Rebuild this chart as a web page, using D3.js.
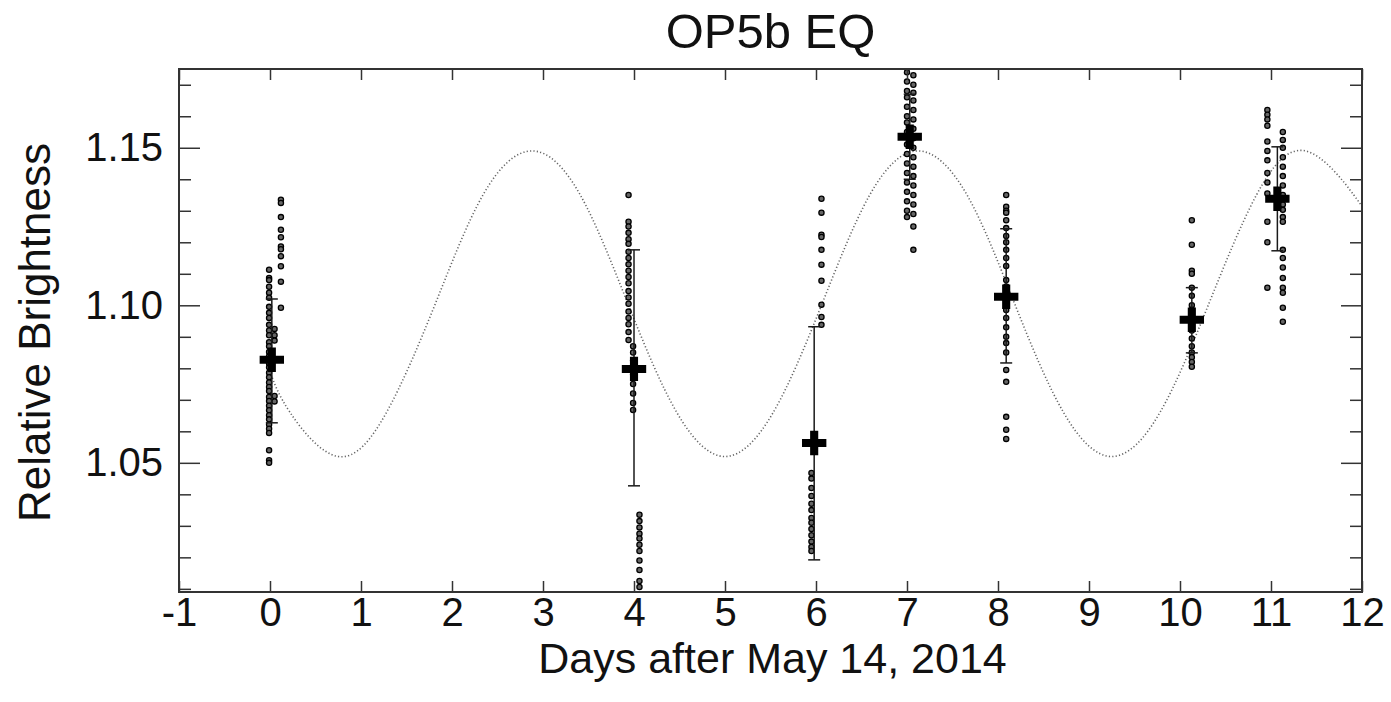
<!DOCTYPE html>
<html>
<head>
<meta charset="utf-8">
<script src="https://cdn.jsdelivr.net/npm/d3@7"></script>
<style>
  body { margin: 0; background: #fff; }
  svg { display: block; font-family: "Liberation Sans", Arial, sans-serif; }
</style>
</head>
<body>
<svg id="chart" width="1391" height="702"></svg>
<script>
// --- data ---
const xTicks = [-1, 0, 1, 2, 3, 4, 5, 6, 7, 8, 9, 10, 11, 12];
const yMajorTicks = [1.05, 1.10, 1.15];
const yMinorTicks = [1.01, 1.02, 1.03, 1.04, 1.06, 1.07, 1.08, 1.09, 1.11, 1.12, 1.13, 1.14, 1.16, 1.17];

// nightly means (+) with error bars
const meanDays   = [0.02, 4.00, 5.98, 7.03, 8.09, 10.13, 11.07];
const meanValues = [1.0827, 1.0798, 1.0563, 1.1535, 1.1027, 1.0954, 1.1338];
const errLow     = [1.0627, 1.0427, 1.0192, 1.1400, 1.0817, 1.0849, 1.1173];
const errHigh    = [1.1020, 1.1176, 1.0932, 1.1670, 1.1243, 1.1056, 1.1503];

// individual measurements, one column of dots each
const obsDay0a = { t: 0.12, v: [1.1335, 1.1325, 1.128, 1.124, 1.1216, 1.1187, 1.1178, 1.1156, 1.1124, 1.1075, 1.0992] };
const obsDay0b = { t: -0.01, v: [1.1113, 1.1087, 1.108, 1.1059, 1.104, 1.1024, 1.0995, 1.0976, 1.096, 1.0938, 1.092, 1.0905,
                                 1.0883, 1.087, 1.0852, 1.0838, 1.0815, 1.0803, 1.0786, 1.0772, 1.0755, 1.0741, 1.0728, 1.0709,
                                 1.0696, 1.0681, 1.0667, 1.0651, 1.0638, 1.0622, 1.0608, 1.0595, 1.054, 1.0508, 1.050] };
const obsDay0c = { t: 0.05, v: [1.0925, 1.0905, 1.0888, 1.0712, 1.0695] };
const obsDay4a = { t: 3.94, v: [1.135, 1.1265, 1.125, 1.123, 1.121, 1.1195, 1.117, 1.115, 1.113, 1.111, 1.109, 1.107, 1.1045,
                                1.1025, 1.1005, 1.098, 1.096, 1.094, 1.0915, 1.089] };
const obsDay4b = { t: 3.99, v: [1.087, 1.085, 1.0825, 1.080, 1.078, 1.075, 1.072, 1.069, 1.0668] };
const obsDay4c = { t: 4.06, v: [1.0335, 1.0315, 1.0295, 1.0275, 1.026, 1.024, 1.022, 1.019, 1.016, 1.0125, 1.0106] };
const obsDay6a = { t: 6.06, v: [1.1338, 1.1294, 1.1224, 1.1217, 1.1176, 1.1129, 1.1078, 1.1002, 1.0963, 1.0938] };
const obsDay6b = { t: 5.95, v: [1.0468, 1.045, 1.042, 1.0395, 1.037, 1.035, 1.0325, 1.031, 1.029, 1.027, 1.025, 1.0233, 1.022] };
const obsDay7a = { t: 7.00, v: [1.174, 1.171, 1.168, 1.166, 1.163, 1.160, 1.158, 1.155, 1.151, 1.148, 1.145, 1.142, 1.139,
                                1.136, 1.133, 1.130, 1.128] };
const obsDay7b = { t: 7.07, v: [1.173, 1.170, 1.1675, 1.165, 1.162, 1.159, 1.156, 1.153, 1.150, 1.147, 1.144, 1.141, 1.138,
                                1.135, 1.132, 1.129, 1.125, 1.1176] };
const obsDay8  = { t: 8.09, v: [1.135, 1.1313, 1.130, 1.1294, 1.127, 1.1245, 1.122, 1.120, 1.1176, 1.115, 1.1125, 1.108, 1.106,
                                1.104, 1.1015, 1.0985, 1.096, 1.093, 1.090, 1.088, 1.085, 1.0795, 1.0757, 1.0646, 1.0605, 1.0576] };
const obsDay10 = { t: 10.13, v: [1.127, 1.1192, 1.111, 1.110, 1.1056, 1.103, 1.100, 1.0986, 1.096, 1.094, 1.092, 1.0895, 1.087,
                                 1.085, 1.0835, 1.082, 1.0805] };
const obsDay11a = { t: 10.96, v: [1.162, 1.1605, 1.159, 1.157, 1.152, 1.149, 1.146, 1.142, 1.139, 1.1355, 1.1265, 1.120, 1.1056] };
const obsDay11b = { t: 11.13, v: [1.155, 1.1525, 1.150, 1.147, 1.144, 1.141, 1.138, 1.135, 1.132, 1.1303, 1.128, 1.1265, 1.1176,
                                  1.115, 1.112, 1.1087, 1.1056, 1.104, 1.0992, 1.0948] };

// dotted model curve, points read along it
const fitDays   = [0.00, 0.22, 0.75, 1.28, 1.81, 2.34, 2.88, 3.41, 3.94, 4.47, 5.00, 5.53, 6.06, 6.59, 7.12, 7.66, 8.19,
                   8.72, 9.25, 9.78, 10.31, 10.84, 11.38, 11.91, 12.00];
const fitValues = [1.079, 1.066, 1.052, 1.066, 1.100, 1.135, 1.149, 1.135, 1.100, 1.066, 1.052, 1.066, 1.100, 1.135, 1.149,
                   1.135, 1.100, 1.066, 1.052, 1.066, 1.100, 1.135, 1.149, 1.135, 1.131];

const observations = [obsDay0a, obsDay0b, obsDay0c, obsDay4a, obsDay4b, obsDay4c, obsDay6a, obsDay6b,
                      obsDay7a, obsDay7b, obsDay8, obsDay10, obsDay11a, obsDay11b];

// --- layout ---
const svg = d3.select("#chart");
const margin = { left: 179, right: 1362, top: 69, bottom: 592 };

const x = d3.scaleLinear().domain([-1, 12]).range([margin.left, margin.right]);
const y = d3.scaleLinear().domain([1.009, 1.175]).range([margin.bottom, margin.top]);

const ink = "#1a1a1a";
const plot = svg.append("g");

// clip so the dots at the top edge are cut like in the original
svg.append("clipPath").attr("id", "clip")
  .append("rect")
  .attr("x", margin.left).attr("y", margin.top)
  .attr("width", margin.right - margin.left).attr("height", margin.bottom - margin.top);

const inner = plot.append("g").attr("clip-path", "url(#clip)");

// model curve
const line = d3.line().x((d, i) => x(fitDays[i])).y(d => y(d)).curve(d3.curveNatural);
inner.append("path")
  .attr("d", line(fitValues))
  .attr("fill", "none")
  .attr("stroke", "#666")
  .attr("stroke-width", 1.6)
  .attr("stroke-dasharray", "1.2,2.2");

// individual points
observations.forEach(col => {
  inner.selectAll(null)
    .data(col.v)
    .enter()
    .append("circle")
    .attr("cx", x(col.t))
    .attr("cy", d => y(d))
    .attr("r", 2.6)
    .attr("fill", "#666")
    .attr("stroke", "#000")
    .attr("stroke-width", 1.3);
});

// error bars
const bars = inner.selectAll(".err")
  .data(meanDays)
  .enter()
  .append("g")
  .attr("class", "err")
  .attr("stroke", ink)
  .attr("stroke-width", 1.5);

bars.append("line")
  .attr("x1", d => x(d)).attr("x2", d => x(d))
  .attr("y1", (d, i) => y(errLow[i])).attr("y2", (d, i) => y(errHigh[i]));
bars.append("line")
  .attr("x1", d => x(d) - 6).attr("x2", d => x(d) + 6)
  .attr("y1", (d, i) => y(errLow[i])).attr("y2", (d, i) => y(errLow[i]));
bars.append("line")
  .attr("x1", d => x(d) - 6).attr("x2", d => x(d) + 6)
  .attr("y1", (d, i) => y(errHigh[i])).attr("y2", (d, i) => y(errHigh[i]));

// big plus markers for the means
const plus = d3.symbol().type(d3.symbolCross).size(330);
inner.selectAll(".mean")
  .data(meanDays)
  .enter()
  .append("path")
  .attr("class", "mean")
  .attr("d", plus)
  .attr("transform", (d, i) => `translate(${x(d)},${y(meanValues[i])})`)
  .attr("fill", "#000");

// --- axes (ticks point inward, mirrored on all four sides) ---
const axisStyle = g => {
  g.select(".domain").remove();
  g.selectAll(".tick line").attr("stroke", "#333").attr("stroke-width", 1.5);
  g.selectAll(".tick text").attr("fill", "#111").style("font-size", "40px");
};

svg.append("g")
  .attr("transform", `translate(0,${margin.bottom})`)
  .call(d3.axisBottom(x).tickValues(xTicks).tickSize(-11).tickPadding(6).tickFormat(d => String(d)))
  .call(axisStyle);

svg.append("g")
  .attr("transform", `translate(0,${margin.top})`)
  .call(d3.axisTop(x).tickValues(xTicks).tickSize(-11).tickFormat(""))
  .call(axisStyle);

svg.append("g")
  .attr("transform", `translate(${margin.left},0)`)
  .call(d3.axisLeft(y).tickValues(yMajorTicks).tickSize(-21).tickPadding(16).tickFormat(d3.format(".2f")))
  .call(axisStyle);

svg.append("g")
  .attr("transform", `translate(${margin.left},0)`)
  .call(d3.axisLeft(y).tickValues(yMinorTicks).tickSize(-12).tickFormat(""))
  .call(axisStyle);

svg.append("g")
  .attr("transform", `translate(${margin.right},0)`)
  .call(d3.axisRight(y).tickValues(yMajorTicks).tickSize(-21).tickFormat(""))
  .call(axisStyle);

svg.append("g")
  .attr("transform", `translate(${margin.right},0)`)
  .call(d3.axisRight(y).tickValues(yMinorTicks).tickSize(-12).tickFormat(""))
  .call(axisStyle);

// frame
svg.append("rect")
  .attr("x", margin.left).attr("y", margin.top)
  .attr("width", margin.right - margin.left).attr("height", margin.bottom - margin.top)
  .attr("fill", "none")
  .attr("stroke", "#333")
  .attr("stroke-width", 2);

// --- titles ---
svg.append("text")
  .attr("x", (margin.left + margin.right) / 2)
  .attr("y", 48)
  .attr("text-anchor", "middle")
  .style("font-size", "49px")
  .attr("fill", "#111")
  .text("OP5b EQ");

svg.append("text")
  .attr("x", (margin.left + margin.right) / 2 + 2)
  .attr("y", 673)
  .attr("text-anchor", "middle")
  .style("font-size", "43px")
  .attr("fill", "#111")
  .text("Days after May 14, 2014");

svg.append("text")
  .attr("transform", `translate(50,${(margin.top + margin.bottom) / 2 + 2}) rotate(-90)`)
  .attr("text-anchor", "middle")
  .style("font-size", "44px")
  .attr("fill", "#111")
  .text("Relative Brightness");
</script>
</body>
</html>
